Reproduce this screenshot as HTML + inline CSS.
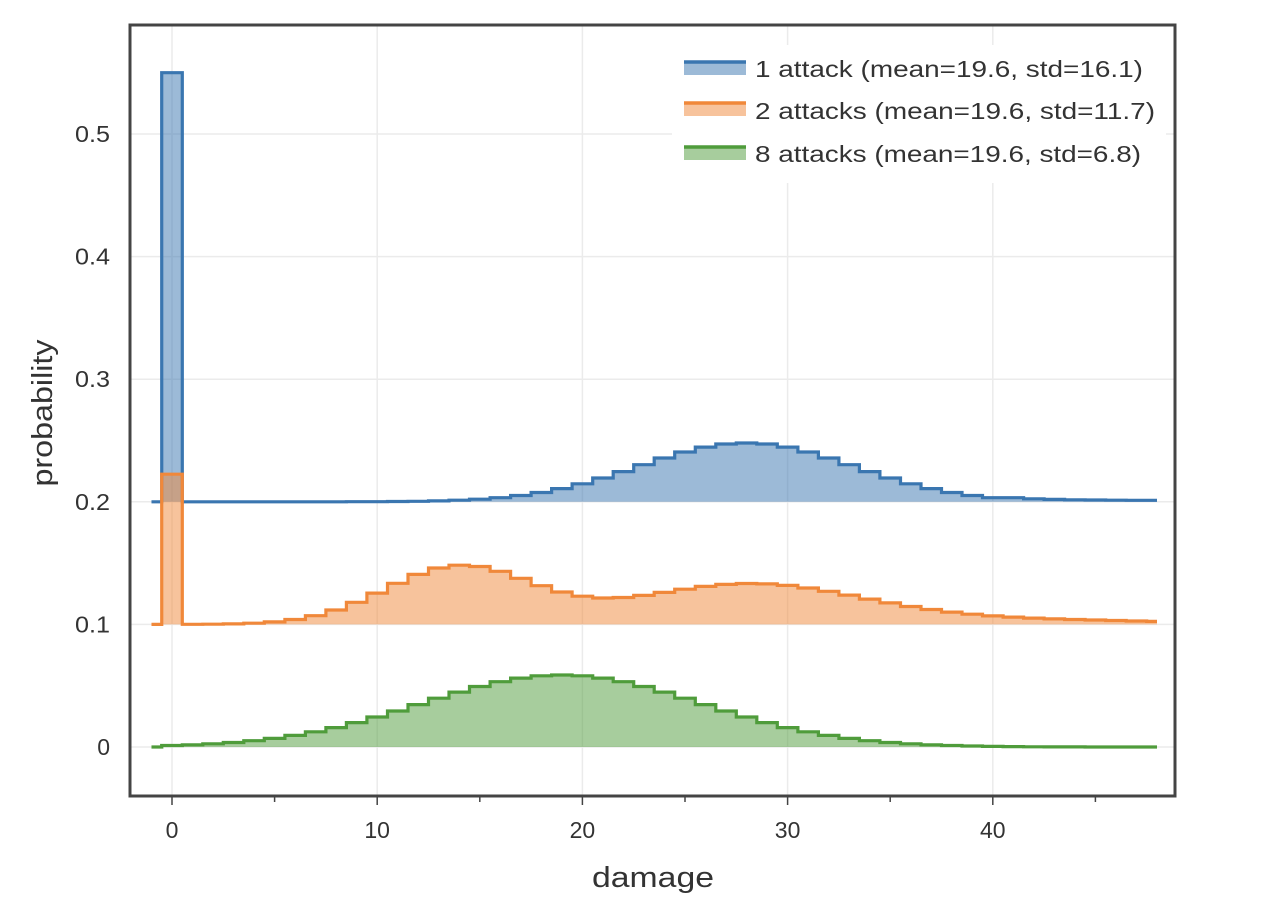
<!DOCTYPE html>
<html><head><style>
body{margin:0;background:#fff}
svg text{font-family:"Liberation Sans",Arial,sans-serif;fill:#333}
</style></head><body>
<svg id="s" width="1280" height="910" xmlns="http://www.w3.org/2000/svg">
<g id="grid" stroke="#ebebeb" stroke-width="1.5"></g>
<g id="series"></g>
<rect x="130" y="25" width="1045" height="771" fill="none" stroke="#444" stroke-width="3"/>
<g id="ticks" stroke="#444" stroke-width="1.5"></g>
<g id="labels" font-size="23"></g>
<text x="653" y="887" font-size="29" text-anchor="middle" textLength="122" lengthAdjust="spacingAndGlyphs">damage</text>
<text transform="translate(52,413) rotate(-90)" font-size="29" text-anchor="middle" textLength="147" lengthAdjust="spacingAndGlyphs">probability</text>
<g>
<rect x="672" y="45" width="494" height="138" fill="#fff"/>
<rect x="684" y="61" width="62" height="14" fill="#3a76b0" fill-opacity="0.5"/><line x1="684" y1="62" x2="746" y2="62" stroke="#3a76b0" stroke-width="3.5"/>
<rect x="684" y="102" width="62" height="14" fill="#f0883a" fill-opacity="0.5"/><line x1="684" y1="103" x2="746" y2="103" stroke="#f0883a" stroke-width="3.5"/>
<rect x="684" y="146" width="62" height="14" fill="#4f9c3b" fill-opacity="0.5"/><line x1="684" y1="147" x2="746" y2="147" stroke="#4f9c3b" stroke-width="3.5"/>
<text x="755" y="77" font-size="23" textLength="388" lengthAdjust="spacingAndGlyphs">1 attack (mean=19.6, std=16.1)</text>
<text x="755" y="119" font-size="23" textLength="400" lengthAdjust="spacingAndGlyphs">2 attacks (mean=19.6, std=11.7)</text>
<text x="755" y="162" font-size="23" textLength="386" lengthAdjust="spacingAndGlyphs">8 attacks (mean=19.6, std=6.8)</text>
</g>
</svg>
<script>
const X=v=>172+v*20.52, Y=v=>747-v*1226;
const NS="http://www.w3.org/2000/svg";
function el(p,t,a){const e=document.createElementNS(NS,t);for(const k in a)e.setAttribute(k,a[k]);document.getElementById(p).appendChild(e);return e;}
for(let v=0;v<=40;v+=10)el("grid","line",{x1:X(v),x2:X(v),y1:26,y2:795});
for(let v=0;v<=0.5;v+=0.1)el("grid","line",{x1:131,x2:1174,y1:Y(v),y2:Y(v)});
for(let v=0;v<=45;v+=5){el("ticks","line",{x1:X(v),x2:X(v),y1:797,y2:v%10?802:805});}
for(let v=0;v<=40;v+=10){const t=el("labels","text",{x:X(v),y:838,"text-anchor":"middle"});t.textContent=v;}
["0","0.1","0.2","0.3","0.4","0.5"].forEach((s,i)=>{const a={x:110,y:Y(i/10)+8,"text-anchor":"end"};if(i>0){a.textLength=35;a.lengthAdjust="spacingAndGlyphs";}const t=el("labels","text",a);t.textContent=s;});
const g=(x,m,s)=>Math.exp(-(x-m)*(x-m)/(2*s*s));
function series(base,f,col){
  let pts=[];
  for(let i=0;i<=48;i++){const y=Y(base+f(i));const x0=X(Math.max(i-0.5,-1)),x1=X(Math.min(i+0.5,48));pts.push([x0,y],[x1,y]);}
  let line=`M${X(-1)},${Y(base)} L${X(-0.5)},${Y(base)} `+pts.map(p=>`L${p[0].toFixed(1)},${p[1].toFixed(1)}`).join(" ");
  let fill=line+` L${X(48)},${Y(base)} Z`;
  el("series","path",{d:fill,fill:col,"fill-opacity":0.5,stroke:"none"});
  el("series","path",{d:line,fill:"none",stroke:col,"stroke-width":3.2});
}
series(0.2,i=>i==0?0.35:0.048*g(i,28,5.2)+0.0012*(i>40?1:0),"#3a76b0");
series(0.1,i=>i==0?0.1225:0.047*g(i,14,3.6)+0.032*g(i,28,5.5)+0.004*g(i,40,8),"#f0883a");
series(0,i=>0.0587*g(i,19,6.8),"#4f9c3b");
</script>
</body></html>
